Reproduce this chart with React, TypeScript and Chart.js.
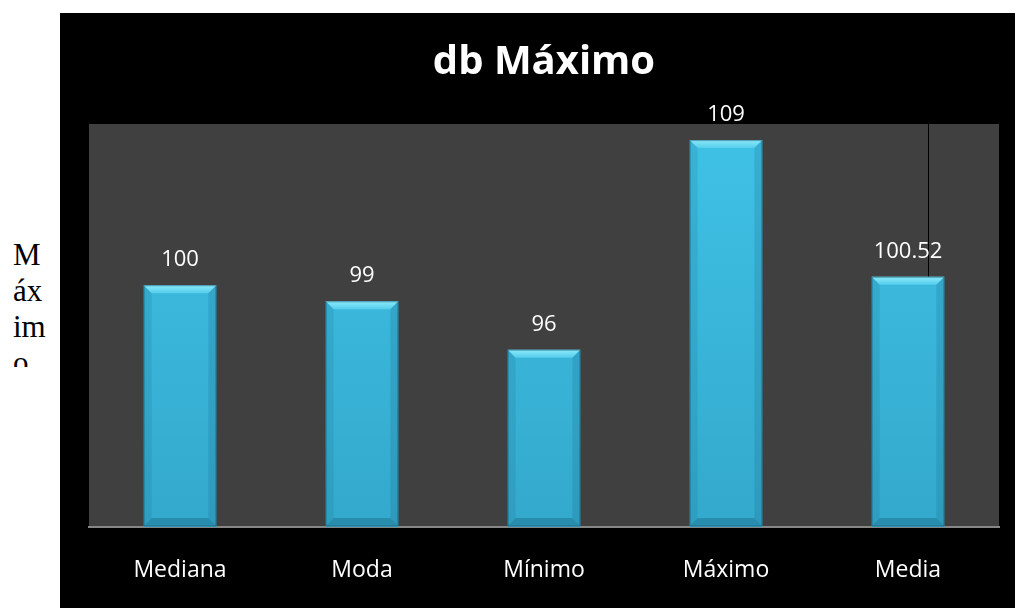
import React, { useEffect, useRef } from "react";
import { Chart, registerables } from "chart.js";

Chart.register(...registerables);

const categories = ["Mediana", "Moda", "Mínimo", "Máximo", "Media"];
const values = [100, 99, 96, 109, 100.52];
const valueLabels = ["100", "99", "96", "109", "100.52"];
const chartTitle = "db Máximo";
const sideTitle = "Máximo";
const yMin = 85;
const yMax = 110;

const FONT = '"Open Sans", "Noto Sans", sans-serif';

const decorPlugin = {
  id: "decor",
  beforeDraw(chart: any) {
    const { ctx, chartArea: a } = chart;
    ctx.save();
    ctx.fillStyle = "#404040";
    ctx.fillRect(a.left, a.top, a.right - a.left, a.bottom - a.top);
    ctx.restore();
  },
  beforeDatasetsDraw(chart: any) {
    const { ctx, chartArea: a } = chart;
    const meta = chart.getDatasetMeta(0);
    const el = meta.data[meta.data.length - 1];
    if (!el) return;
    const p = el.getProps(["x", "width"], true);
    const x = Math.round(p.x + p.width * 0.27) + 0.5;
    ctx.save();
    ctx.strokeStyle = "#000";
    ctx.lineWidth = 1;
    ctx.beginPath();
    ctx.moveTo(x, a.top);
    ctx.lineTo(x, a.bottom);
    ctx.stroke();
    ctx.restore();
  },
  afterDatasetsDraw(chart: any) {
    const { ctx, chartArea: a } = chart;
    const meta = chart.getDatasetMeta(0);
    meta.data.forEach((el: any, i: number) => {
      const { x, y, width, base } = el.getProps(["x", "y", "width", "base"], true);
      const l = x - width / 2;
      const r = x + width / 2;
      const t = y;
      const b = Math.min(base, a.bottom - 1);
      const bv = 8;
      ctx.save();
      // top bevel
      const gTop = ctx.createLinearGradient(0, t, 0, t + bv);
      gTop.addColorStop(0, "#8beafa");
      gTop.addColorStop(1, "#55cdec");
      ctx.fillStyle = gTop;
      ctx.beginPath();
      ctx.moveTo(l, t);
      ctx.lineTo(r, t);
      ctx.lineTo(r - bv, t + bv);
      ctx.lineTo(l + bv, t + bv);
      ctx.closePath();
      ctx.fill();
      // left bevel
      ctx.fillStyle = "rgba(20,90,120,0.14)";
      ctx.beginPath();
      ctx.moveTo(l, t);
      ctx.lineTo(l + bv, t + bv);
      ctx.lineTo(l + bv, b - bv);
      ctx.lineTo(l, b);
      ctx.closePath();
      ctx.fill();
      // right bevel
      ctx.fillStyle = "rgba(20,90,120,0.18)";
      ctx.beginPath();
      ctx.moveTo(r, t);
      ctx.lineTo(r - bv, t + bv);
      ctx.lineTo(r - bv, b - bv);
      ctx.lineTo(r, b);
      ctx.closePath();
      ctx.fill();
      // bottom bevel
      ctx.fillStyle = "rgba(15,70,95,0.28)";
      ctx.beginPath();
      ctx.moveTo(l, b);
      ctx.lineTo(r, b);
      ctx.lineTo(r - bv, b - bv);
      ctx.lineTo(l + bv, b - bv);
      ctx.closePath();
      ctx.fill();
      // outline
      ctx.strokeStyle = "rgba(20,80,105,0.5)";
      ctx.lineWidth = 1;
      ctx.strokeRect(l + 0.5, t + 0.5, width - 1, b - t - 0.5);
      // value label
      ctx.fillStyle = "#ffffff";
      ctx.font = `22px ${FONT}`;
      ctx.textAlign = "center";
      ctx.textBaseline = "alphabetic";
      ctx.fillText(valueLabels[i], x, t - 19);
      ctx.restore();
    });
  },
};

export default function App() {
  const canvasRef = useRef<HTMLCanvasElement | null>(null);

  useEffect(() => {
    const canvas = canvasRef.current;
    if (!canvas) return;
    const chart = new Chart(canvas, {
      type: "bar",
      data: {
        labels: categories,
        datasets: [
          {
            data: values,
            backgroundColor: (c: any) => {
              const a = c.chart.chartArea;
              if (!a) return "#3bbde0";
              const g = c.chart.ctx.createLinearGradient(0, a.top, 0, a.bottom);
              g.addColorStop(0, "#3fc2e6");
              g.addColorStop(1, "#33a9cc");
              return g;
            },
            borderWidth: 0,
            categoryPercentage: 1,
            barPercentage: 0.4,
          },
        ],
      },
      options: {
        responsive: false,
        animation: false,
        layout: { padding: { top: 26, left: 29, right: 16, bottom: -6.6 } },
        plugins: {
          legend: { display: false },
          tooltip: { enabled: false },
          title: {
            display: true,
            text: chartTitle,
            color: "#ffffff",
            font: { family: FONT, size: 40, weight: "bold" },
            padding: { top: 0, bottom: 37 },
          },
        },
        scales: {
          x: {
            grid: { display: false, drawTicks: false },
            border: { display: true, color: "#878787", width: 2 },
            ticks: { color: "#ffffff", font: { family: FONT, size: 23 }, padding: 30 },
          },
          y: { display: false, min: yMin, max: yMax },
        },
      },
      plugins: [decorPlugin],
    } as any);
    return () => chart.destroy();
  }, []);

  return (
    <div style={{ position: "absolute", left: 0, top: 0, width: 1015, height: 608, background: "#ffffff", overflow: "hidden" }}>
      <div
        style={{
          position: "absolute",
          left: 13,
          top: 237,
          width: 35,
          height: 130,
          overflow: "hidden",
          fontFamily: '"Liberation Serif", "Times New Roman", serif',
          fontSize: 31,
          lineHeight: "36px",
          color: "#000",
          wordBreak: "break-all",
        }}
      >
        {sideTitle}
      </div>
      <div style={{ position: "absolute", left: 60, top: 13, width: 955, height: 595, background: "#000000" }}>
        <canvas ref={canvasRef} width={955} height={595} style={{ width: 955, height: 595, display: "block" }} />
      </div>
    </div>
  );
}
